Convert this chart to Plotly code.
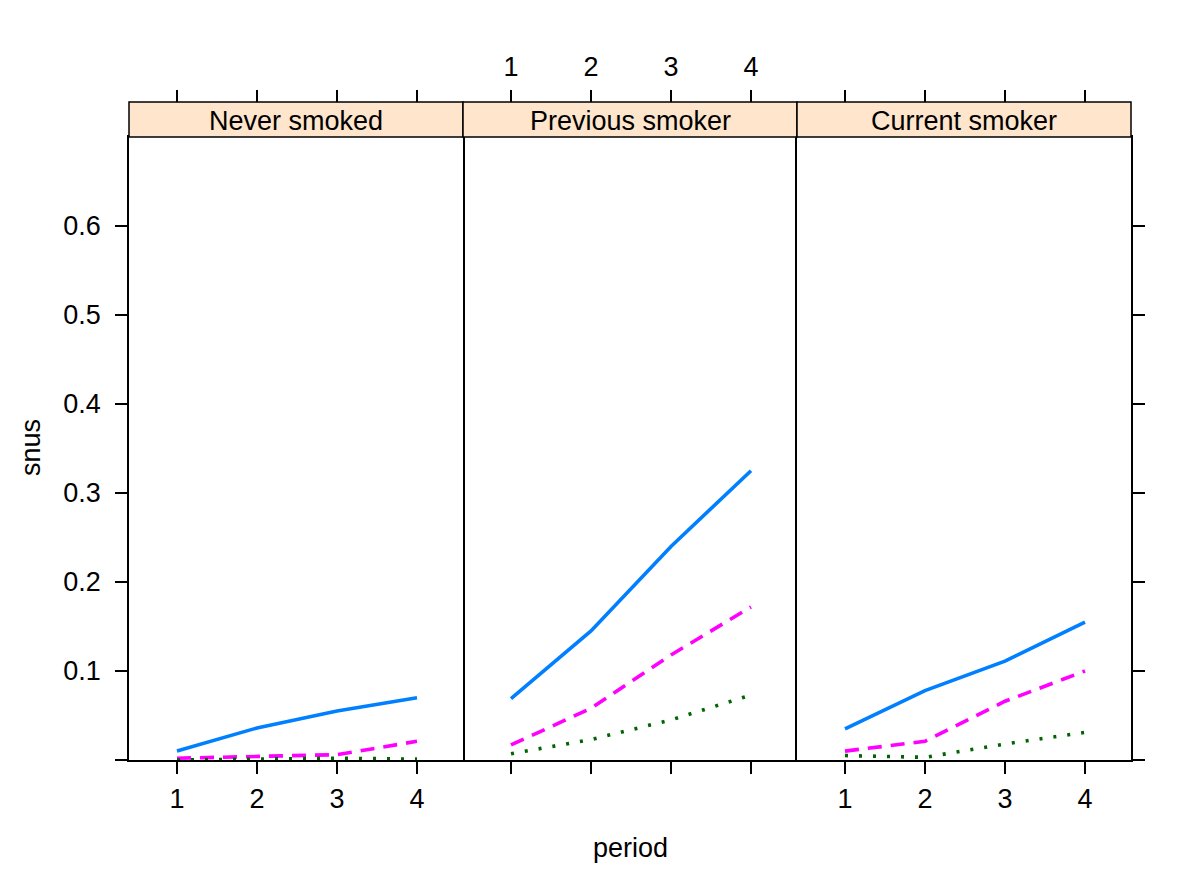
import plotly.graph_objects as go

# ---- data ----
periods = [1, 2, 3, 4]
panels = ["Never smoked", "Previous smoker", "Current smoker"]

# series 1 (blue, solid)
blue_never = [0.010, 0.036, 0.055, 0.070]
blue_prev = [0.069, 0.145, 0.240, 0.325]
blue_curr = [0.035, 0.078, 0.111, 0.155]
# series 2 (magenta, dashed)
mag_never = [0.002, 0.004, 0.006, 0.021]
mag_prev = [0.017, 0.058, 0.118, 0.172]
mag_curr = [0.010, 0.021, 0.066, 0.100]
# series 3 (dark green, dotted)
grn_never = [0.000, 0.001, 0.002, 0.001]
grn_prev = [0.007, 0.023, 0.045, 0.073]
grn_curr = [0.005, 0.003, 0.018, 0.031]

ytick_vals = [0, 0.1, 0.2, 0.3, 0.4, 0.5, 0.6]
ytick_text = ["", "0.1", "0.2", "0.3", "0.4", "0.5", "0.6"]
xtick_vals = [1, 2, 3, 4]

W, H = 1200, 885
FONT = "Liberation Sans"
FS = 27
LW = 1.5

px_left = [129, 463, 797]
px_right = [463, 797, 1131]
y_bottom_px, y_top_px, strip_top_px = 760, 137, 102

def fx(p):
    return p / W

def fy(p):
    return (H - p) / H

xdoms = [[fx(l), fx(r)] for l, r in zip(px_left, px_right)]
ydom = [fy(y_bottom_px), fy(y_top_px)]
xr = [0.4, 4.575]
yr = [0, 0.7]

series = [
    ([blue_never, blue_prev, blue_curr], "#0080ff", "solid", 3.6),
    ([mag_never, mag_prev, mag_curr], "#ff00ff", "14px,9px", 3.6),
    ([grn_never, grn_prev, grn_curr], "#006400", "3px,11px", 3.6),
]

fig = go.Figure()
for vals_list, color, dash, w in series:
    for i, vals in enumerate(vals_list):
        sfx = "" if i == 0 else str(i + 1)
        fig.add_trace(go.Scatter(
            x=periods, y=vals, mode="lines",
            xaxis="x" + sfx, yaxis="y" + sfx,
            line=dict(color=color, dash=dash, width=w),
            showlegend=False, hoverinfo="skip"))

# invisible traces for top tick axes
for k in range(3):
    fig.add_trace(go.Scatter(x=[None], y=[None], xaxis="x" + str(k + 4),
                             yaxis="y" + ("" if k == 0 else str(k + 1)),
                             showlegend=False, hoverinfo="skip"))

tickfont = dict(family=FONT, size=FS, color="black")
layout = dict(
    width=W, height=H, margin=dict(l=0, r=0, t=0, b=0),
    plot_bgcolor="white", paper_bgcolor="white",
    font=dict(family=FONT, size=FS, color="black"),
)
for k in range(3):
    sfx = "" if k == 0 else str(k + 1)
    ysfx = "" if k == 0 else str(k + 1)
    layout["xaxis" + sfx] = dict(
        domain=xdoms[k], anchor="y" + ysfx, range=xr,
        tickvals=xtick_vals, ticks="outside", ticklen=12, tickwidth=LW,
        tickcolor="black", showline=True, linecolor="black", linewidth=LW,
        mirror=True, showgrid=False, zeroline=False,
        showticklabels=(k != 1), tickfont=tickfont, ticklabelstandoff=2,
    )
    layout["yaxis" + ysfx] = dict(
        domain=ydom, anchor="x" + sfx, range=yr,
        tickvals=ytick_vals, ticktext=ytick_text,
        ticks="" if k == 1 else "outside", ticklen=12, tickwidth=LW,
        tickcolor="black", side="right" if k == 2 else "left",
        showline=(k != 1), linecolor="black", linewidth=LW, mirror=True,
        showgrid=False, zeroline=False, showticklabels=(k == 0),
        tickfont=tickfont, ticklabelstandoff=9,
    )
    layout["xaxis" + str(k + 4)] = dict(
        overlaying="x" + sfx, anchor="free", position=fy(strip_top_px),
        side="top", range=xr, tickvals=xtick_vals, ticks="outside",
        ticklen=12, tickwidth=LW, tickcolor="black", showline=False,
        showgrid=False, zeroline=False, showticklabels=(k == 1),
        tickfont=tickfont, ticklabelstandoff=3,
    )

shapes = []
annotations = []
for k in range(3):
    shapes.append(dict(type="rect", xref="paper", yref="paper",
                       x0=xdoms[k][0], x1=xdoms[k][1],
                       y0=fy(y_top_px), y1=fy(strip_top_px),
                       fillcolor="#ffe5cc", line=dict(color="black", width=LW),
                       layer="above"))
    annotations.append(dict(xref="paper", yref="paper",
                            x=(xdoms[k][0] + xdoms[k][1]) / 2,
                            y=(fy(y_top_px) + fy(strip_top_px)) / 2 - 1.5 / H,
                            text=panels[k], showarrow=False,
                            font=dict(family=FONT, size=FS, color="black"),
                            xanchor="center", yanchor="middle"))

annotations.append(dict(xref="paper", yref="paper", x=fx(630), y=fy(848),
                        text="period", showarrow=False, xanchor="center",
                        yanchor="middle", font=dict(family=FONT, size=FS)))
annotations.append(dict(xref="paper", yref="paper", x=fx(31), y=fy(448),
                        text="snus", showarrow=False, textangle=-90,
                        xanchor="center", yanchor="middle",
                        font=dict(family=FONT, size=FS)))

layout["shapes"] = shapes
layout["annotations"] = annotations
fig.update_layout(**layout)
fig.write_html("out.html", config={"displayModeBar": False},
               post_script="document.body.style.margin='0px';")
